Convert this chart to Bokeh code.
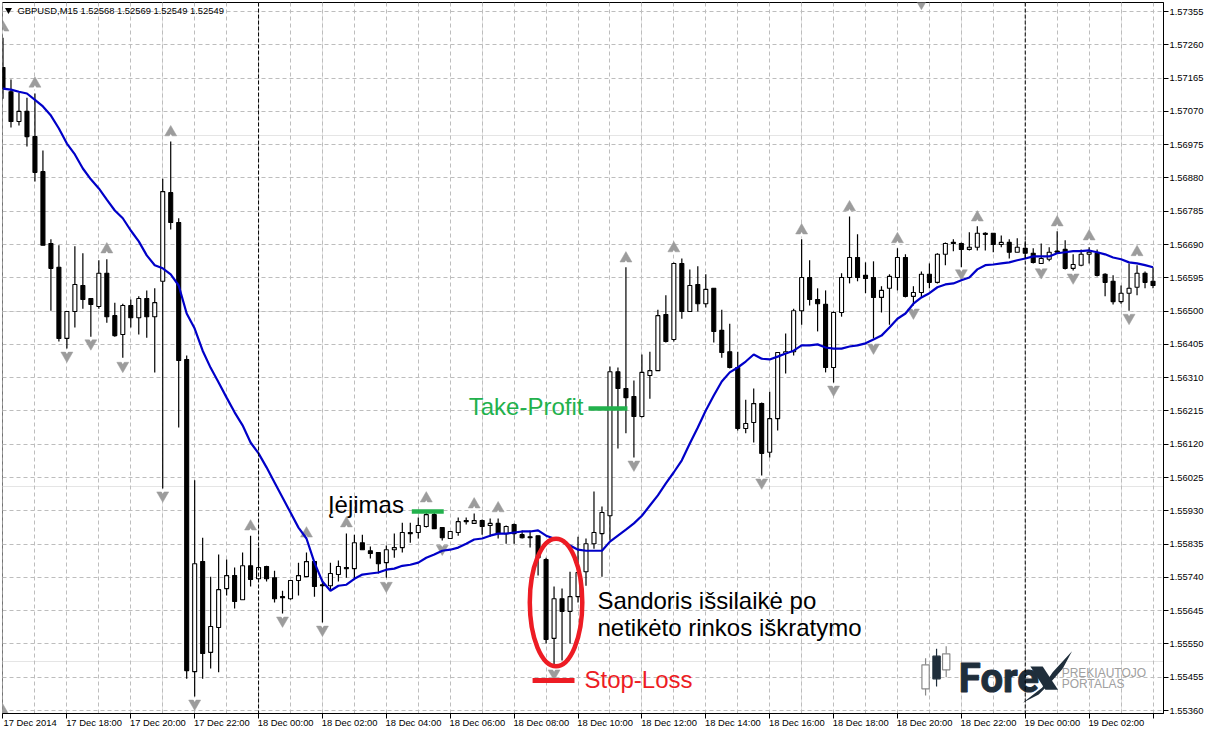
from bokeh.plotting import figure
from bokeh.models import LinearAxis, FixedTicker, PrintfTickFormatter, Span, Range1d, Grid, Label
from bokeh.core.properties import value
from bokeh.embed import file_html
from bokeh.resources import INLINE
import numpy as np

# ---- data (prices in 1/100000) -------------------------------------------------
highs = [157280,157161,157123,157109,157121,156958,156705,156688,156499,156685,156665,156536,156645,156648,156524,156521,156533,156542,156559,156565,
156878,156984,156765,156373,156017,155853,155742,155805,155791,155768,155811,155859,155825,155773,155759,155702,155731,155782,155811,155785,
155734,155782,155788,155865,155862,155862,155828,155811,155831,155865,155896,155896,155911,155925,155931,155882,155871,155911,155911,155922,
155905,155908,155908,155888,155894,155874,155874,155859,155796,155714,155708,155756,155856,155851,155985,155942,156342,156339,156625,156302,
156376,156384,156504,156545,156639,156650,156619,156628,156605,156565,156504,156464,156384,156247,156279,156239,156270,156382,156436,156507,
156705,156645,156565,156559,156499,156608,156770,156719,156639,156642,156571,156605,156679,156662,156571,156613,156636,156665,156696,156705,
156696,156725,156742,156725,156722,156716,156705,156708,156699,156679,156693,156682,156728,156702,156662,156676,156682,156676,156608,156602,
156573,156636,156631,156613,156625]
lows = [157106,157024,157030,156970,156870,156688,156501,156413,156393,156453,156507,156427,156507,156467,156427,156367,156453,156433,156424,156325,
155994,156733,156168,155451,155400,155451,155480,155469,155688,155651,155676,155714,155736,155728,155668,155637,155676,155688,155742,155685,
155611,155702,155728,155739,155736,155819,155794,155751,155739,155796,155811,155839,155851,155882,155879,155845,155851,155859,155891,155894,
155862,155856,155851,155836,155836,155851,155825,155745,155551,155491,155503,155551,155668,155716,155822,155742,155845,156108,156151,156082,
156196,156250,156330,156410,156413,156478,156499,156499,156510,156410,156367,156336,156159,156151,156125,156031,156082,156159,156322,156373,
156461,156516,156442,156325,156296,156484,156579,156585,156551,156422,156496,156461,156559,156539,156516,156539,156565,156579,156631,156671,
156625,156673,156673,156673,156668,156682,156650,156668,156648,156636,156636,156642,156665,156619,156616,156628,156636,156599,156542,156519,
156521,156501,156545,156565,156565]
opens = [157195,157126,157041,157070,156998,156898,156693,156625,156422,156499,156573,156536,156513,156608,156487,156433,156516,156481,156536,156484,
156585,156838,156753,156362,155471,155785,155526,155597,155708,155745,155676,155773,155736,155771,155739,155685,155679,155731,155742,155785,
155719,155716,155748,155768,155765,155839,155816,155811,155782,155819,155825,155868,155868,155885,155919,155882,155851,155868,155902,155894,
155902,155888,155894,155865,155891,155862,155856,155859,155791,155566,155679,155643,155685,155756,155836,155865,155916,156327,156279,156256,
156199,156316,156330,156490,156419,156636,156499,156576,156521,156565,156445,156384,156339,156165,156182,156236,156097,156193,156379,156384,
156501,156596,156533,156519,156339,156496,156596,156653,156602,156596,156539,156565,156596,156653,156542,156553,156605,156582,156662,156696,
156693,156676,156682,156722,156722,156690,156696,156668,156679,156665,156636,156648,156671,156676,156622,156631,156662,156665,156605,156585,
156527,156551,156568,156608,156585]
closes = [157135,157041,157070,156998,156896,156688,156622,156422,156499,156576,156533,156519,156608,156484,156430,156516,156481,156536,156484,156524,
156841,156753,156359,155474,155779,155523,155600,155705,155745,155671,155773,155734,155768,155736,155679,155682,155731,155745,155785,155714,
155716,155751,155771,155765,155839,155819,155808,155779,155819,155825,155868,155865,155888,155919,155879,155853,155871,155899,155899,155902,
155885,155894,155865,155885,155865,155853,155853,155796,155563,155679,155643,155685,155754,155836,155868,155925,156327,156279,156253,156199,
156325,156330,156487,156413,156636,156499,156573,156521,156562,156442,156382,156339,156165,156179,156236,156094,156193,156382,156384,156501,
156596,156533,156521,156339,156496,156596,156653,156596,156593,156539,156559,156599,156653,156542,156553,156605,156582,156662,156693,156693,
156676,156682,156722,156719,156690,156696,156668,156682,156665,156639,156650,156668,156668,156622,156633,156662,156668,156602,156582,156527,
156551,156565,156608,156582,156573]
ma = [157135,157132,157126,157121,157103,157084,157058,157021,156978,156947,156907,156876,156850,156818,156787,156765,156730,156699,156659,156631,
156622,156605,156573,156493,156450,156387,156338,156296,156253,156211,156174,156125,156094,156054,156011,155968,155925,155882,155851,155782,
155728,155702,155716,155719,155736,155748,155751,155754,155762,155765,155773,155776,155782,155796,155805,155816,155819,155825,155836,155848,
155851,155859,155865,155865,155868,155871,155871,155874,155859,155851,155845,155831,155819,155816,155816,155816,155842,155859,155876,155894,
155916,155945,155974,156008,156040,156074,156122,156168,156216,156259,156299,156325,156339,156356,156376,156364,156362,156370,156379,156387,
156402,156402,156405,156396,156393,156393,156399,156402,156408,156419,156430,156453,156478,156493,156521,156539,156551,156568,156576,156579,
156588,156596,156619,156631,156633,156636,156639,156645,156650,156656,156656,156656,156665,156668,156671,156671,156673,156668,156662,156653,
156648,156639,156636,156631,156625]
up_bar = [0,4,13,21,31,38,43,53,59,62,78,84,100,106,112,122,132,136,142,0]
up_val = [157309,157149,156676,157010,155885,155865,155894,155965,155948,155937,156650,156679,156730,156796,156705,156767,156753,156713,156668,155358]
down_bar = [8,11,15,20,24,35,40,48,55,69,79,95,104,109,114,120,130,134,141,115]
down_val = [156373,156408,156344,155974,155380,155617,155591,155716,155822,155466,156062,156011,156276,156396,156496,156608,156611,156596,156481,157380]
price_ticks = [1.57355,1.57260,1.57165,1.57070,1.56975,1.56880,1.56785,1.56690,1.56595,1.56500,1.56405,1.56310,1.56215,1.56120,1.56025,1.55930,1.55835,1.55740,1.55645,1.55550,1.55455,1.55360]
time_labels = ["17 Dec 2014","17 Dec 18:00","17 Dec 20:00","17 Dec 22:00","18 Dec 00:00","18 Dec 02:00","18 Dec 04:00","18 Dec 06:00","18 Dec 08:00","18 Dec 10:00","18 Dec 12:00","18 Dec 14:00","18 Dec 16:00","18 Dec 18:00","18 Dec 20:00","18 Dec 22:00","19 Dec 00:00","19 Dec 02:00","19 Dec 04:00"]
header = "GBPUSD,M15  1.52568 1.52569 1.52549 1.52549"

bars_per_label = 8
session_bars = [32, 128]

# ---- pixel helpers for the hand-drawn annotations -------------------------------
def px(x): return (x - 2.5) / 8.0
def py(y): return (157386.4 - 2.854 * y) / 1e5

W, H = 1206, 732
FL, FR, FT, FB = 2, 1165, 2, 713
p = figure(width=W, height=H, output_backend="svg", toolbar_location=None,
           x_range=Range1d(px(FL), px(FR)), y_range=Range1d(py(FB), py(FT)),
           x_axis_location=None, y_axis_location=None,
           min_border_left=FL, min_border_right=W-FR, min_border_top=FT, min_border_bottom=H-FB,
           background_fill_color="white", border_fill_color="white")
p.outline_line_color = "black"
p.outline_line_width = 1

x = np.arange(len(opens))
O, Hi, Lo, C = [np.array(a) / 1e5 for a in (opens, highs, lows, closes)]
MA = np.array(ma) / 1e5
tick_bars = [i * bars_per_label for i in range(len(time_labels))]

FONT = "Liberation Sans"
# ---- axes
ax = LinearAxis(ticker=FixedTicker(ticks=price_ticks), formatter=PrintfTickFormatter(format="%.5f"))
ax.major_label_text_font = FONT; ax.major_label_text_font_size = "9.4px"; ax.major_label_text_color = "black"
ax.major_tick_in = 0; ax.major_tick_out = 5; ax.minor_tick_line_color = None
ax.major_label_standoff = 1; ax.axis_line_color = "black"; ax.major_tick_line_color = "black"
p.add_layout(ax, "right")

bx = LinearAxis(ticker=FixedTicker(ticks=tick_bars), major_label_overrides={t: "" for t in tick_bars})
bx.major_tick_in = 0; bx.major_tick_out = 5; bx.minor_tick_line_color = None
bx.major_label_standoff = 0; bx.axis_line_color = "black"; bx.major_tick_line_color = "black"
bx.major_label_text_font_size = "1px"
p.add_layout(bx, "below")

label_shift = 3.4
lab_ticks = [t + label_shift for t in tick_bars[:-1]]
lx = LinearAxis(ticker=FixedTicker(ticks=lab_ticks),
                major_label_overrides={t + label_shift: s for t, s in zip(tick_bars, time_labels)})
lx.major_tick_line_color = None; lx.minor_tick_line_color = None; lx.axis_line_color = None
lx.major_tick_in = 0; lx.major_tick_out = 0; lx.major_label_standoff = -2
lx.major_label_text_font = FONT; lx.major_label_text_font_size = "9.4px"; lx.major_label_text_color = "black"
p.add_layout(lx, "below")
# the last time label starts at its tick and runs off the right edge, past the frame
p.add_layout(Label(x=tick_bars[-1], y=py(722.5), x_offset=2.5, text=time_labels[-1], text_align="left",
                   text_baseline="middle", text_font=FONT, text_font_size="9.4px", text_color="black"))

# ---- grid
p.add_layout(Grid(dimension=0, ticker=FixedTicker(ticks=[t/2 for t in range(0, 320, 8)]),
                  grid_line_color="#BDBDBD", grid_line_dash="4 3", grid_line_width=1))
p.add_layout(Grid(dimension=1, ticker=FixedTicker(ticks=price_ticks),
                  grid_line_color="#BDBDBD", grid_line_dash="4 3", grid_line_width=1))
for b in session_bars:
    p.add_layout(Span(location=b, dimension="height", line_color="black", line_dash="4 2", line_width=1))

# ---- fractal arrows
GREY = "#9C9C9C"
ub, uv = np.array(up_bar), np.array(up_val) / 1e5
db, dv = np.array(down_bar), np.array(down_val) / 1e5
ppx = 2.854 / 1e5
p.scatter(ub, uv, marker="triangle", size=12, fill_color=GREY, line_color=GREY, line_width=0.5)
p.scatter(ub, uv - 4.5 * ppx, marker="triangle", size=5, fill_color="white", line_color=None)
p.scatter(db, dv, marker="inverted_triangle", size=12, fill_color=GREY, line_color=GREY, line_width=0.5)
p.scatter(db, dv + 4.5 * ppx, marker="inverted_triangle", size=5, fill_color="white", line_color=None)

# ---- candles
p.segment(x, Hi, x, Lo, line_color="black", line_width=1.2)
up = C >= O
top, bot = np.maximum(O, C), np.minimum(O, C)
p.vbar(x[up], 0.5, bot[up], top[up], fill_color="white", line_color="black", line_width=1.1)
p.vbar(x[~up], 0.5, bot[~up], top[~up], fill_color="black", line_color="black", line_width=1.1)

# ---- moving average
p.line(x, MA, line_color="#0000C8", line_width=2.2)

# ---- hand annotations
RED, GREEN = "#ED1C24", "#22B14C"
p.segment([px(412)], [py(511)], [px(444)], [py(511)], line_color=GREEN, line_width=4.5)
p.segment([px(589)], [py(408)], [px(628)], [py(408)], line_color=GREEN, line_width=4.5)
p.segment([px(533)], [py(680)], [px(575)], [py(680)], line_color=RED, line_width=5)
p.ellipse([px(556.5)], [py(602)], width=52.5, height=127.5, width_units="screen", height_units="screen",
          fill_color=None, line_color=RED, line_width=4.5)

def txt(xp, yp, s, color="black", size=24, font=FONT, style="normal", outline=None):
    p.text([px(xp)], [py(yp - 0.36 * size)], text=[s], text_color=color, text_font=value(font), text_font_size=f"{size}px",
           text_font_style=style, text_baseline="alphabetic", text_align="left", text_outline_color=outline)

txt(328, 513, "\u012e\u0117jimas")
txt(469, 415, "Take-Profit", GREEN)
txt(598, 609, "Sandoris i\u0161silaik\u0117 po")
txt(598, 636, "netik\u0117to rinkos i\u0161kratymo")
txt(585, 688, "Stop-Loss", RED)
txt(17, 13.5, header, size=9.4)
p.scatter([px(8)], [py(9.5)], marker="inverted_triangle", size=7, fill_color="black", line_color=None)

# ---- logo
DARK = "#1F2E3B"
def lpx(z): return px(900 + z / 3.0)
def lpy(z): return py(630 + z / 3.0)
def cand(xc, wt, wb, bt, bb, half, color, fill):
    p.segment([lpx(xc)], [lpy(wt)], [lpx(xc)], [lpy(wb)], line_color=color, line_width=1.2)
    p.quad(left=[lpx(xc-half)], right=[lpx(xc+half)], top=[lpy(bt)], bottom=[lpy(bb)],
           fill_color=fill, line_color=color, line_width=1.2)
cand(80, 83, 195, 103, 175, 11, "#8A8A8A", "white")
cand(113, 55, 168, 77, 145, 11, DARK, DARK)
cand(142, 47, 140, 70, 118, 11, "#8A8A8A", "white")
txt(960, 692, "Fore", DARK, 40, "Roboto", "bold", outline=DARK)
armA = [(395,108),(432,108),(478,178),(440,178)]
armB = [(372,217),(430,172),(462,125),(520,62),(492,115),(450,162),(420,192)]
for poly in (armA, armB):
    p.patch([lpx(a) for a, b in poly], [lpy(b) for a, b in poly], fill_color=DARK, line_color=None)
txt(1063, 677, "PREKIAUTOJO", "#A0A0A0", 12)
txt(1063, 688, "PORTALAS", "#A0A0A0", 12)

open("out.html", "w").write(file_html(p, INLINE))
